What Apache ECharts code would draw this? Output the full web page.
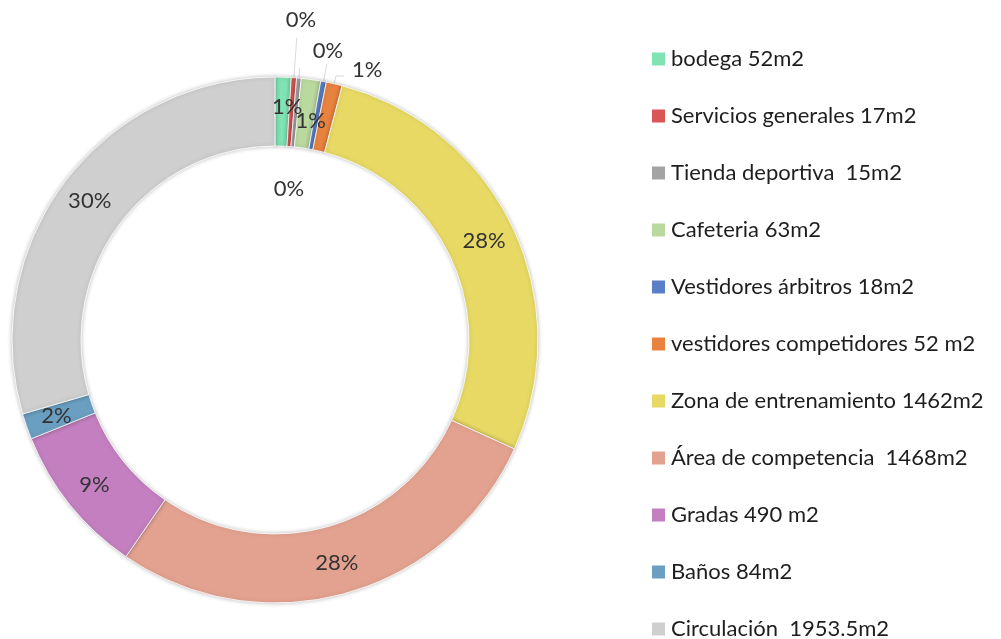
<!DOCTYPE html>
<html lang="es">
<head>
    <meta charset="UTF-8">
    <title>Áreas</title>
    <script src="https://cdn.jsdelivr.net/npm/echarts@6/dist/echarts.min.js"></script>
</head>
<body style="margin:0;background:#fff;">
<div id="main" style="width:1001px;height:639px;"></div>
<script>
    var areaNames = [
        'bodega 52m2',
        'Servicios generales 17m2',
        'Tienda deportiva  15m2',
        'Cafeteria 63m2',
        'Vestidores árbitros 18m2',
        'vestidores competidores 52 m2',
        'Zona de entrenamiento 1462m2',
        'Área de competencia  1468m2',
        'Gradas 490 m2',
        'Baños 84m2',
        'Circulación  1953.5m2'
    ];
    var areaValues = [52, 17, 15, 63, 18, 52, 1462, 1468, 490, 84, 1560];

    var colors = ['#7fe3b4', '#d95556', '#a3a3a3', '#b9d99f', '#5b7fc6', '#e8823f',
        '#e7d964', '#e3a290', '#c37fbf', '#6b9fc1', '#cfcfcf'];

    // etiquetas de las porciones chicas (fuera del anillo)
    var outsideLabels = {
        1: {length: 40, length2: 0},
        2: {length: 10, length2: 0},
        4: {length: 18, length2: 0},
        5: {length: 8, length2: 8}
    };
    var labelShift = {
        0: {dx: 5, dy: -2},
        1: {dx: -16, dy: -18},
        2: {dx: -31, dy: 121},
        3: {dx: 4, dy: 10},
        4: {dx: -19, dy: -13},
        5: {dx: 3, dy: -6}
    };

    var myChart = echarts.init(document.getElementById('main'));

    var data = areaNames.map(function (n, i) {
        var d = {name: n, value: areaValues[i], itemStyle: {color: colors[i]}};
        if (outsideLabels[i]) {
            d.label = {position: 'outside'};
            d.labelLine = {show: true, length: outsideLabels[i].length, length2: outsideLabels[i].length2};
        }
        return d;
    });

    var option = {
        backgroundColor: '#fff',
        textStyle: {fontFamily: 'Lato'},
        legend: {
            orient: 'vertical',
            left: 645,
            top: 43,
            height: 610,
            icon: 'rect',
            itemWidth: 15,
            itemHeight: 15,
            itemGap: 35,
            textStyle: {fontSize: 22, lineHeight: 22, color: '#1e1e1e', fontFamily: 'Lato'},
            data: areaNames
        },
        series: [{
            type: 'pie',
            center: [275, 340],
            radius: [194, 263],
            startAngle: 90,
            clockwise: true,
            avoidLabelOverlap: false,
            itemStyle: {
                borderColor: '#fff',
                borderWidth: 0.8,
                shadowBlur: 4,
                shadowColor: 'rgba(0,0,0,0.25)'
            },
            label: {
                show: true,
                position: 'inside',
                fontSize: 22,
                color: '#333',
                fontFamily: 'Lato',
                formatter: function (p) {
                    return Math.round(p.percent) + '%';
                }
            },
            labelLine: {
                lineStyle: {color: '#d9d9d9', width: 1}
            },
            labelLayout: function (p) {
                var s = labelShift[p.dataIndex];
                return s ? {dx: s.dx, dy: s.dy} : {};
            },
            emphasis: {disabled: true},
            data: data
        }]
    };

    myChart.setOption(option);
</script>
</body>
</html>
